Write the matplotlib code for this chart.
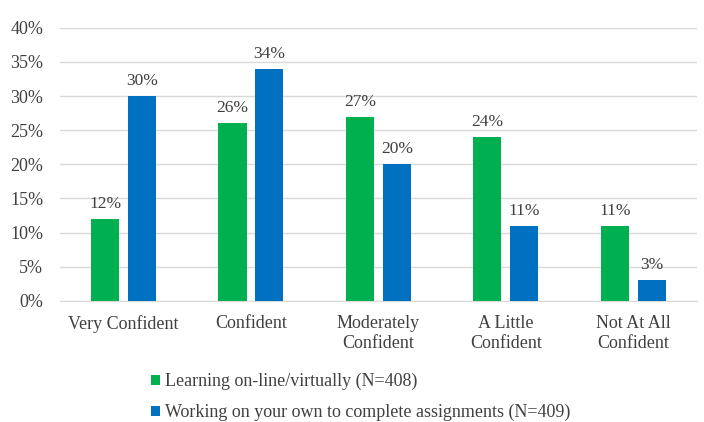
import numpy as np
import matplotlib.pyplot as plt
from matplotlib.ticker import PercentFormatter

categories = ['Very Confident', 'Confident', 'Moderately\nConfident', 'A Little\nConfident', 'Not At All\nConfident']
online = [12, 26, 27, 24, 11]
own_work = [30, 34, 20, 11, 3]
series_names = ['Learning on-line/virtually (N=408)', 'Working on your own to complete assignments (N=409)']

plt.rcParams['font.family'] = ['Liberation Serif', 'DejaVu Serif']

fig = plt.figure(figsize=(7.04, 4.22), dpi=100)
ax = fig.add_axes([0.085, 0.287, 0.905, 0.647])

x = np.arange(len(categories))
w = 0.22
green = '#00B050'
blue = '#0070C0'
b1 = ax.bar(x - 0.145, online, w, color=green, label=series_names[0], zorder=3)
b2 = ax.bar(x + 0.145, own_work, w, color=blue, label=series_names[1], zorder=3)

for bars, vals in [(b1, online), (b2, own_work)]:
    for b, v in zip(bars, vals):
        ax.annotate(f'{v}%', (b.get_x() + b.get_width() / 2, v), xytext=(0, 5),
                    textcoords='offset points', ha='center', va='bottom',
                    fontsize=12.5, color='#404040')

ax.set_xlim(-0.5, 4.5)
ax.set_ylim(0, 40)
ax.set_yticks(range(0, 41, 5))
ax.yaxis.set_major_formatter(PercentFormatter(decimals=0))
ax.set_xticks(x)
ax.set_xticklabels(categories, linespacing=1.25)
ax.tick_params(length=0, labelsize=13, labelcolor='#404040')
ax.tick_params(axis='y', pad=12)
ax.tick_params(axis='x', pad=10)
ax.grid(axis='y', color='#D9D9D9', linewidth=1, zorder=0)
for s in ['top', 'right', 'left']:
    ax.spines[s].set_visible(False)
ax.spines['bottom'].set_color('#D9D9D9')

fig.legend(loc='center left', bbox_to_anchor=(0.214, 0.059), ncol=1, frameon=False,
           fontsize=13, handlelength=0.5, handleheight=0.5, handletextpad=0.3,
           labelspacing=0.75, borderpad=0, borderaxespad=0, labelcolor='#404040')

fig.savefig('out.png', dpi=100)
